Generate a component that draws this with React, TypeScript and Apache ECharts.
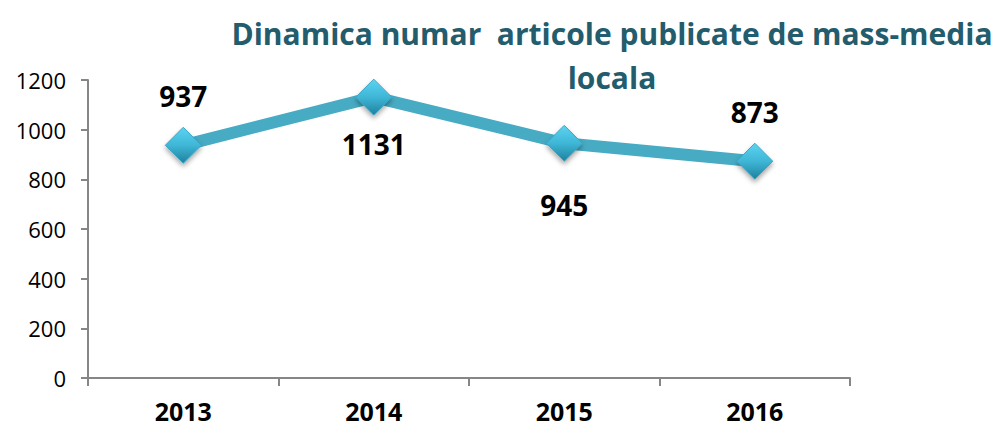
import React, { useEffect, useRef } from "react";
import * as echarts from "echarts";

const categories = ["2013", "2014", "2015", "2016"];
const values = [937, 1131, 945, 873];
const labelPositions = ["top", "bottom", "bottom", "top"];
const labelOffsets = [-12, 9, 24, -12];
const titleLines = ["Dinamica numar  articole publicate de mass-media", "locala"];

export default function App() {
  const ref = useRef<HTMLDivElement>(null);
  useEffect(() => {
    if (!ref.current) return;
    const chart = echarts.init(ref.current, undefined, { renderer: "svg" });
    const data = values.map((v, i) => ({
      value: v,
      label: {
        show: true,
        position: labelPositions[i],
        offset: [0, labelOffsets[i]],
      },
    }));
    chart.setOption({
      animation: false,
      backgroundColor: "#ffffff",
      title: {
        text: titleLines.join("\n"),
        left: 607,
        top: 6,
        textAlign: "center",
        textStyle: {
          color: "#235c6c",
          fontFamily: "Open Sans",
          fontWeight: "bold",
          fontSize: 30,
          lineHeight: 44,
        },
      },
      grid: { left: 88, right: 151, top: 80, bottom: 52 },
      xAxis: {
        type: "category",
        data: categories,
        boundaryGap: true,
        axisLine: { lineStyle: { color: "#868686", width: 2 } },
        axisTick: { show: true, length: 8, lineStyle: { color: "#868686", width: 2 } },
        axisLabel: {
          margin: 20,
          color: "#000",
          fontFamily: "Open Sans",
          fontWeight: "bold",
          fontSize: 25,
        },
      },
      yAxis: {
        type: "value",
        min: 0,
        max: 1200,
        interval: 200,
        splitLine: { show: false },
        axisLine: { show: true, lineStyle: { color: "#868686", width: 2 } },
        axisTick: { show: true, length: 7, lineStyle: { color: "#868686", width: 2 } },
        axisLabel: {
          margin: 22,
          color: "#000",
          fontFamily: "Open Sans",
          fontSize: 22,
          formatter: (v: number) => String(v),
        },
      },
      series: [
        {
          type: "line",
          data,
          symbol: "diamond",
          symbolSize: 36,
          lineStyle: { color: "#47abc4", width: 12 },
          itemStyle: {
            color: new echarts.graphic.LinearGradient(0, 0, 0, 1, [
              { offset: 0, color: "#5dd3f2" },
              { offset: 0.5, color: "#3fb6d6" },
              { offset: 1, color: "#1f809d" },
            ]),
            borderColor: "#3aa6c4",
            borderWidth: 1,
            shadowColor: "rgba(0,0,0,0.35)",
            shadowBlur: 5,
            shadowOffsetY: 3,
          },
          label: {
            color: "#000",
            fontFamily: "Open Sans",
            fontWeight: "bold",
            fontSize: 28,
          },
        },
      ],
    });
    return () => chart.dispose();
  }, []);
  return <div ref={ref} style={{ width: 1001, height: 430, margin: -8 }} />;
}
